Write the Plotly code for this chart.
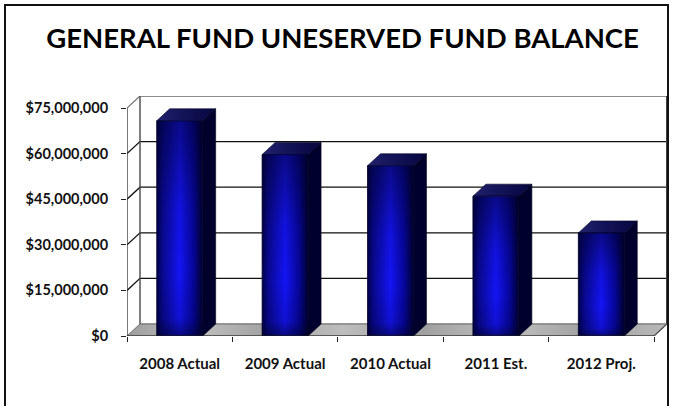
import plotly.graph_objects as go

# ---- data -------------------------------------------------------------
categories = ["2008 Actual", "2009 Actual", "2010 Actual", "2011 Est.", "2012 Proj."]
balance = [70_800_000, 59_700_000, 56_000_000, 46_000_000, 33_900_000]
y_tick_values = [0, 15_000_000, 30_000_000, 45_000_000, 60_000_000, 75_000_000]
y_tick_labels = ["$0", "$15,000,000", "$30,000,000", "$45,000,000", "$60,000,000", "$75,000,000"]

# ---- pseudo-3D geometry (axis units) ----------------------------------
Y_MAX = 75_000_000
DX = 0.1233          # depth offset along x (category units)
DY = 3_950_000       # depth offset along y (dollars)
BW = 0.436           # bar front-face width (category units)
X0, X1 = -0.5, len(categories) - 0.5

FONT = "Lato"
fig = go.Figure()


def poly(xs, ys, **kw):
    fig.add_trace(go.Scatter(x=xs, y=ys, fill="toself", mode="lines",
                             hoverinfo="skip", showlegend=False, **kw))


def line(xs, ys, color, width):
    fig.add_trace(go.Scatter(x=xs, y=ys, mode="lines", hoverinfo="skip",
                             showlegend=False, line=dict(color=color, width=width)))


# back wall
poly([X0 + DX, X1 + DX, X1 + DX, X0 + DX, X0 + DX],
     [DY, DY, Y_MAX + DY, Y_MAX + DY, DY],
     fillcolor="white", line=dict(color="#8a8a8a", width=1))

# gridlines: diagonal on the side wall, then across the back wall
for v in y_tick_values[1:-1]:
    line([X0, X0 + DX, X1 + DX], [v, v + DY, v + DY], "#101010", 1.3)
line([X0, X0 + DX, X1 + DX], [Y_MAX, Y_MAX + DY, Y_MAX + DY], "#7a7a7a", 1.3)
line([X0 + DX, X0 + DX], [DY, Y_MAX + DY], "#505050", 1.2)
line([X1 + DX, X1 + DX], [DY, Y_MAX + DY], "#404040", 2)

# floor
poly([X0, X1, X1 + DX, X0 + DX, X0], [0, 0, DY, DY, 0],
     fillgradient=dict(type="horizontal",
                       colorscale=[[0, "#9c9c9c"], [0.12, "#c2c2c2"], [0.25, "#a4a4a4"],
                                   [0.4, "#bdbdbd"], [0.55, "#a0a0a0"], [0.7, "#c0c0c0"],
                                   [0.85, "#a2a2a2"], [1, "#b8b8b8"]]),
     line=dict(color="#6c6c6c", width=1))

# bars
for i, v in enumerate(balance):
    xl, xr = i - BW / 2, i + BW / 2
    # right side face
    poly([xr, xr + DX, xr + DX, xr, xr], [0, DY, v + DY, v, 0],
         fillcolor="#00002c", line=dict(color="#000018", width=0.6))
    # top face
    poly([xl, xl + DX, xr + DX, xr, xl], [v, v + DY, v + DY, v, v],
         fillgradient=dict(type="horizontal",
                           colorscale=[[0, "#22226e"], [0.4, "#14145a"], [1, "#060640"]]),
         line=dict(color="#000020", width=0.6))
    # front face, lit in the middle
    poly([xl, xr, xr, xl, xl], [0, 0, v, v, 0],
         fillgradient=dict(type="horizontal",
                           colorscale=[[0, "#000046"], [0.12, "#08088c"], [0.5, "#1414f6"],
                                       [0.8, "#06069a"], [1, "#00002e"]]),
         line=dict(color="#000030", width=0.8))
    # vertical shading over the front face
    poly([xl, xr, xr, xl, xl], [0, 0, v, v, 0],
         fillgradient=dict(type="vertical",
                           colorscale=[[0, "rgba(0,0,30,0.55)"], [0.08, "rgba(0,0,30,0.15)"],
                                       [0.3, "rgba(0,0,30,0)"], [0.6, "rgba(0,0,30,0.1)"],
                                       [1, "rgba(0,0,30,0.5)"]]),
         line=dict(width=0))

# front axes
line([X0, X0], [0, Y_MAX], "#202020", 1.2)
line([X0, X1], [0, 0], "#202020", 1.2)
line([X1, X1 + DX], [0, DY], "#505050", 1.2)

# outer frame
fig.add_shape(type="rect", xref="paper", yref="paper",
              x0=(5 - 127) / 540, x1=(668 - 127) / 540,
              y0=(336 - 415) / 240, y1=(336 - 5) / 240,
              line=dict(color="#111111", width=2), layer="above")

fig.update_layout(
    width=673, height=406,
    margin=dict(l=127, r=6, t=96, b=70),
    paper_bgcolor="white", plot_bgcolor="white",
    title=dict(text="GENERAL FUND UNESERVED FUND BALANCE",
               font=dict(family=FONT, size=27.5, color="#000000", weight="bold"),
               xref="container", yref="container", x=0.509, y=1 - 38 / 406,
               xanchor="center", yanchor="middle"),
    xaxis=dict(range=[X0, X1 + DX], tickvals=list(range(len(categories))),
               ticktext=categories, ticks="", showgrid=False, zeroline=False,
               showline=False, ticklabelstandoff=17,
               tickfont=dict(family=FONT, size=15, color="#111111", weight="bold"),
               minor=dict(tickvals=[k - 0.5 for k in range(len(categories) + 1)],
                          ticks="outside", ticklen=5, tickcolor="#202020",
                          tickwidth=1.2, showgrid=False)),
    yaxis=dict(range=[0, Y_MAX + DY], tickvals=y_tick_values, ticktext=y_tick_labels,
               ticks="outside", ticklen=5, tickcolor="#202020", tickwidth=1.2,
               showgrid=False, zeroline=False, showline=False, ticklabelstandoff=10,
               tickfont=dict(family=FONT, size=14.5, color="#111111", weight="bold")),
)

fig.write_html("out.html")
